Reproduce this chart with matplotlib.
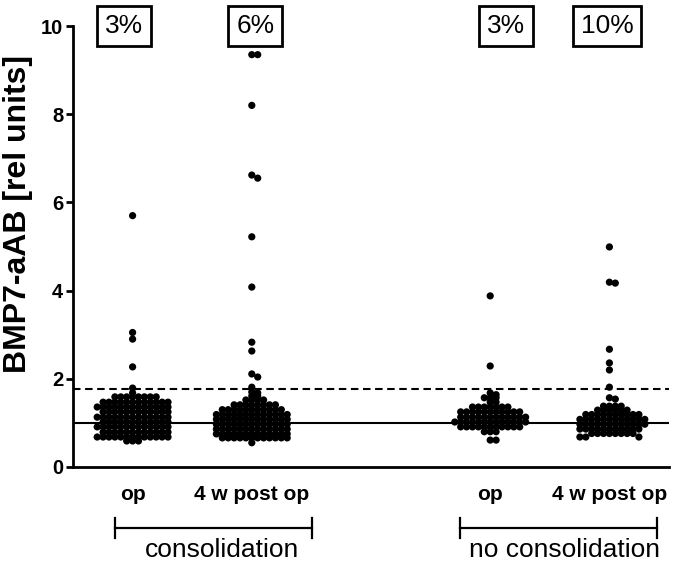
import numpy as np
import matplotlib
matplotlib.use("Agg")
import matplotlib.pyplot as plt
from matplotlib.transforms import blended_transform_factory

plt.rcParams['font.family'] = ['Liberation Sans', 'DejaVu Sans']

# ---------------- data ----------------
group_names = ["op", "4 w post op", "op", "4 w post op"]
group_pos = [1, 2, 4, 5]
percent_labels = ["3%", "6%", "3%", "10%"]
cohort_labels = ["consolidation", "no consolidation"]
cutoff_value = 1.78
reference_value = 1.0
y_ticks = [0, 2, 4, 6, 8, 10]
y_label = "BMP7-aAB [rel units]"

# consolidation, op  (value levels and number of patients at each level)
g1_levels = [5.70, 3.05, 2.90, 2.27, 1.79, 1.68, 1.59, 1.47, 1.36, 1.25, 1.13, 1.02, 0.91, 0.79, 0.68, 0.59]
g1_counts = [1,    1,    1,    1,    1,    1,    8,    12,   13,   12,   13,   12,   13,   12,   13,   3]

# consolidation, 4 w post op
g2_levels = [9.35, 8.20, 6.62, 6.55, 5.22, 4.08, 2.83, 2.63, 2.11, 2.04, 1.81, 1.70, 1.68, 1.61,
             1.52, 1.41, 1.30, 1.19, 1.08, 0.97, 0.86, 0.75, 0.66, 0.55]
g2_counts = [2,    1,    1,    1,    1,    1,    1,    1,    1,    1,    1,    1,    1,    2,
             4,    8,    11,   13,   13,   13,   13,   13,   12,   1]

# no consolidation, op
g3_levels = [3.88, 2.29, 1.68, 1.64, 1.57, 1.47, 1.36, 1.25, 1.13, 1.02, 0.91, 0.80, 0.61]
g3_counts = [1,    1,    1,    1,    3,    2,    7,    11,   12,   13,   11,   3,    2]

# no consolidation, 4 w post op
g4_levels = [4.99, 4.19, 4.17, 2.67, 2.36, 2.20, 1.81, 1.57, 1.54, 1.38, 1.29, 1.19, 1.08, 0.97, 0.86, 0.76, 0.68]
g4_counts = [1,    1,    1,    1,    1,    1,    1,    1,    1,    4,    6,    10,   12,   12,   11,   8,    3]

groups = [(g1_levels, g1_counts), (g2_levels, g2_counts),
          (g3_levels, g3_counts), (g4_levels, g4_counts)]

# ---------------- layout helpers ----------------
def swarm(values, center, dx, thr=0.08):
    vals = np.sort(np.asarray(values, dtype=float))[::-1]
    xs = np.empty_like(vals)
    i = 0
    while i < len(vals):
        j = i
        while j < len(vals) and vals[i] - vals[j] < thr:
            j += 1
        for k in range(j - i):
            m = (k + 1) // 2
            sign = 1 if k % 2 == 1 else -1
            xs[i + k] = center + (sign * m if k else 0) * dx
        i = j
    return xs, vals

fig = plt.figure(figsize=(6.73, 5.63), dpi=100)
ax = fig.add_axes([73 / 673, 96 / 563, 596 / 673, 441 / 563])
ax.set_xlim(0.5, 5.5)
ax.set_ylim(0, 10)

dx = 0.0495
for (lev, cnt), pos in zip(groups, group_pos):
    vals = np.repeat(lev, cnt)
    xs, ys = swarm(vals, pos, dx)
    ax.scatter(xs, ys, s=27, color='black', edgecolors='none', zorder=3, clip_on=False)

ax.axhline(reference_value, color='black', lw=1.5, zorder=2)
ax.axhline(cutoff_value, color='black', lw=1.5, ls=(0, (3.6, 2.2)), zorder=2)

for sp in ['top', 'right']:
    ax.spines[sp].set_visible(False)
for sp in ['left', 'bottom']:
    ax.spines[sp].set_linewidth(2.0)

ax.set_yticks(y_ticks)
ax.set_yticklabels([str(t) for t in y_ticks], fontsize=14.5, fontweight='bold')
ax.tick_params(axis='y', length=5, width=2, pad=2)
ax.set_xticks(group_pos)
ax.set_xticklabels(group_names, fontsize=15, fontweight='bold')
ax.tick_params(axis='x', length=0, pad=13)

fig.text(18 / 673, 1 - 214 / 563, y_label, rotation=90, fontsize=23,
         fontweight='bold', ha='center', va='center')

# percentage boxes
percent_x = [0.93, 2.03, 4.13, 4.98]
for x, lab in zip(percent_x, percent_labels):
    ax.text(x, 10, lab, fontsize=19, ha='center', va='center', clip_on=False,
            bbox=dict(boxstyle='square,pad=0.3', fc='white', ec='black', lw=2), zorder=5)

# cohort brackets
tr = blended_transform_factory(ax.transData, ax.transAxes)
brackets = [(0.852, 2.505, 1.75), (3.747, 5.399, 4.62)]
for (x0, x1, xc), lab in zip(brackets, cohort_labels):
    yb = -0.138
    ax.plot([x0, x1], [yb, yb], color='black', lw=1.6, transform=tr, clip_on=False)
    for xe in (x0, x1):
        ax.plot([xe, xe], [yb - 0.022, yb + 0.022], color='black', lw=1.6,
                transform=tr, clip_on=False)
    ax.text(xc, -0.204, lab, fontsize=19, ha='center', va='baseline', transform=tr)

fig.savefig("out.png", dpi=100)
